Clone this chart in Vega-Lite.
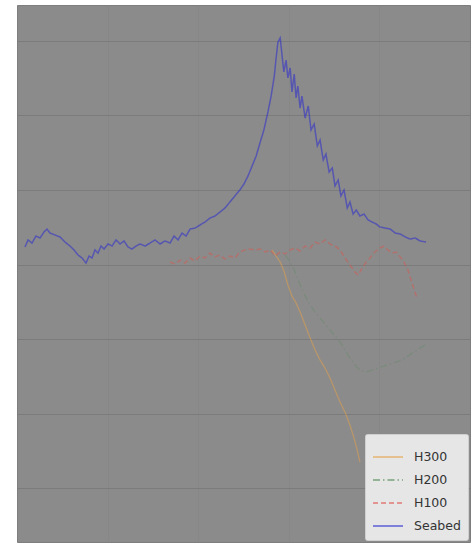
{
  "$schema": "https://vega.github.io/schema/vega-lite/v6.json",
  "width": 453,
  "height": 537,
  "autosize": {"type": "none"},
  "padding": {"left": 17, "top": 5, "right": 5, "bottom": 6},
  "background": "#ffffff",
  "config": {
    "view": {"fill": "#8b8b8b", "stroke": "#7e7e7e"},
    "font": "DejaVu Sans"
  },
  "datasets": {
    "seabed": [
      {"x":1.77,"y":-138.2},{"x":2.43,"y":-133.5},{"x":3.31,"y":-135.6},{"x":4.19,"y":-130.9},{"x":5.08,"y":-132.2},{"x":5.96,"y":-128.2},{"x":6.62,"y":-126.2},{"x":7.28,"y":-128.9},{"x":8.39,"y":-130.2},{"x":9.49,"y":-131.5},{"x":10.6,"y":-134.9},{"x":11.7,"y":-137.6},{"x":12.59,"y":-140.2},{"x":13.47,"y":-143.6},{"x":14.35,"y":-145.6},{"x":15.24,"y":-149.0},{"x":15.9,"y":-144.3},{"x":16.56,"y":-145.6},{"x":17.22,"y":-140.2},{"x":17.88,"y":-142.3},{"x":18.55,"y":-137.6},{"x":19.21,"y":-139.6},{"x":20.09,"y":-136.2},{"x":20.98,"y":-137.6},{"x":21.86,"y":-133.5},{"x":22.74,"y":-136.2},{"x":23.63,"y":-134.2},{"x":24.51,"y":-138.2},{"x":25.39,"y":-139.6},{"x":26.28,"y":-137.6},{"x":27.16,"y":-136.2},{"x":28.26,"y":-137.6},{"x":29.37,"y":-135.6},{"x":30.47,"y":-133.5},{"x":31.57,"y":-136.2},{"x":32.68,"y":-134.2},{"x":33.78,"y":-135.6},{"x":34.67,"y":-130.9},{"x":35.55,"y":-133.5},{"x":36.43,"y":-128.9},{"x":37.32,"y":-130.9},{"x":38.2,"y":-126.2},{"x":39.3,"y":-125.5},{"x":40.4,"y":-123.5},{"x":41.5,"y":-121.5},{"x":42.6,"y":-118.8},{"x":43.7,"y":-117.5},{"x":44.8,"y":-114.8},{"x":45.9,"y":-112.1},{"x":47.0,"y":-108.1},{"x":48.1,"y":-104.0},{"x":49.2,"y":-100.0},{"x":50.1,"y":-96.0},{"x":51.0,"y":-90.6},{"x":51.9,"y":-83.9},{"x":52.8,"y":-77.2},{"x":53.7,"y":-67.8},{"x":54.5,"y":-59.8},{"x":55.4,"y":-47.7},{"x":56.1,"y":-37.0},{"x":56.8,"y":-23.6},{"x":57.2,"y":-11.5},{"x":57.6,"y":-0.8},{"x":58.1,"y":1.9},{"x":58.5,"y":-9.5},{"x":58.9,"y":-20.9},{"x":59.4,"y":-12.9},{"x":59.8,"y":-24.9},{"x":60.3,"y":-18.2},{"x":60.7,"y":-34.3},{"x":61.2,"y":-22.3},{"x":61.6,"y":-38.3},{"x":62.0,"y":-30.3},{"x":62.5,"y":-45.1},{"x":62.9,"y":-37.0},{"x":63.6,"y":-51.8},{"x":64.3,"y":-43.7},{"x":64.9,"y":-59.8},{"x":65.6,"y":-55.8},{"x":66.3,"y":-70.5},{"x":66.9,"y":-66.5},{"x":67.6,"y":-79.9},{"x":68.2,"y":-75.9},{"x":68.9,"y":-88.0},{"x":69.6,"y":-85.3},{"x":70.2,"y":-97.3},{"x":70.9,"y":-93.3},{"x":71.5,"y":-104.0},{"x":72.2,"y":-100.0},{"x":72.9,"y":-112.1},{"x":73.5,"y":-108.1},{"x":74.2,"y":-116.1},{"x":74.9,"y":-113.4},{"x":75.7,"y":-117.5},{"x":76.6,"y":-116.1},{"x":77.5,"y":-120.1},{"x":78.4,"y":-121.5},{"x":79.3,"y":-122.8},{"x":80.1,"y":-124.8},{"x":81.2,"y":-125.5},{"x":82.4,"y":-126.2},{"x":83.5,"y":-128.9},{"x":84.6,"y":-129.5},{"x":85.7,"y":-131.5},{"x":86.8,"y":-132.9},{"x":87.9,"y":-132.2},{"x":89.0,"y":-134.2},{"x":90.3,"y":-134.9}
    ],
    "h100": [
      {"x":33.8,"y":-148.3},{"x":34.9,"y":-149.6},{"x":36.0,"y":-147.0},{"x":37.1,"y":-149.0},{"x":38.2,"y":-145.6},{"x":39.3,"y":-147.6},{"x":40.4,"y":-144.3},{"x":41.5,"y":-145.6},{"x":42.6,"y":-142.3},{"x":43.7,"y":-144.9},{"x":44.8,"y":-143.6},{"x":45.9,"y":-146.3},{"x":47.0,"y":-144.3},{"x":48.1,"y":-145.6},{"x":49.2,"y":-141.6},{"x":50.3,"y":-140.2},{"x":51.4,"y":-139.6},{"x":52.5,"y":-140.2},{"x":53.7,"y":-139.6},{"x":54.8,"y":-141.6},{"x":55.9,"y":-140.2},{"x":57.0,"y":-144.3},{"x":58.1,"y":-141.6},{"x":59.2,"y":-142.9},{"x":60.3,"y":-140.2},{"x":61.4,"y":-138.9},{"x":62.5,"y":-140.9},{"x":63.6,"y":-137.6},{"x":64.7,"y":-138.9},{"x":65.8,"y":-134.9},{"x":66.9,"y":-136.2},{"x":68.0,"y":-133.5},{"x":69.1,"y":-136.2},{"x":70.2,"y":-137.6},{"x":71.3,"y":-140.2},{"x":72.4,"y":-145.6},{"x":73.5,"y":-150.3},{"x":74.6,"y":-155.0},{"x":75.3,"y":-157.0},{"x":76.2,"y":-152.3},{"x":77.1,"y":-148.3},{"x":77.9,"y":-145.6},{"x":79.0,"y":-141.6},{"x":80.1,"y":-138.9},{"x":81.0,"y":-137.6},{"x":81.9,"y":-140.2},{"x":82.8,"y":-142.3},{"x":83.7,"y":-141.6},{"x":84.6,"y":-144.9},{"x":85.4,"y":-148.3},{"x":86.3,"y":-153.7},{"x":87.0,"y":-160.4},{"x":87.7,"y":-167.1},{"x":88.3,"y":-172.4}
    ],
    "h200": [
      {"x":59.2,"y":-143.6},{"x":60.3,"y":-148.3},{"x":61.4,"y":-155.0},{"x":62.5,"y":-163.7},{"x":63.6,"y":-171.1},{"x":64.7,"y":-177.1},{"x":65.8,"y":-181.8},{"x":66.9,"y":-185.8},{"x":68.0,"y":-189.9},{"x":69.1,"y":-193.9},{"x":70.2,"y":-197.9},{"x":71.3,"y":-201.9},{"x":72.4,"y":-207.3},{"x":73.5,"y":-212.7},{"x":74.6,"y":-217.3},{"x":75.7,"y":-220.7},{"x":77.1,"y":-222.0},{"x":78.4,"y":-220.7},{"x":79.7,"y":-219.4},{"x":81.0,"y":-218.0},{"x":82.4,"y":-216.7},{"x":83.7,"y":-215.3},{"x":85.0,"y":-214.0},{"x":86.3,"y":-211.3},{"x":87.7,"y":-208.6},{"x":89.0,"y":-205.9},{"x":90.1,"y":-203.9}
    ],
    "h300": [
      {"x":56.3,"y":-140.2},{"x":57.2,"y":-144.3},{"x":58.1,"y":-148.3},{"x":59.0,"y":-155.0},{"x":59.8,"y":-163.7},{"x":60.7,"y":-171.1},{"x":61.6,"y":-175.8},{"x":62.5,"y":-181.8},{"x":63.6,"y":-190.5},{"x":64.7,"y":-199.2},{"x":65.8,"y":-207.3},{"x":66.9,"y":-214.0},{"x":68.0,"y":-219.4},{"x":69.1,"y":-226.1},{"x":70.2,"y":-234.1},{"x":71.3,"y":-242.1},{"x":72.4,"y":-248.9},{"x":73.5,"y":-257.6},{"x":74.4,"y":-266.3},{"x":75.1,"y":-274.3},{"x":75.7,"y":-282.4}
    ]
  },
  "encoding": {
    "x": {"field": "x", "type": "quantitative", "scale": {"domain": [0, 100], "nice": false},
      "axis": {"title": null, "labels": false, "ticks": false, "domain": false, "grid": true, "gridColor": "#878787", "gridWidth": 1, "values": [20, 40, 60, 80]}},
    "y": {"field": "y", "type": "quantitative", "scale": {"domain": [-336, 24], "nice": false},
      "axis": {"title": null, "labels": false, "ticks": false, "domain": false, "grid": true, "gridColor": "#7b7b7b", "gridWidth": 1.2, "values": [0, -50, -100, -150, -200, -250, -300]}},
    "color": {"field": "series", "type": "nominal",
      "scale": {"domain": ["H300", "H200", "H100", "Seabed"], "range": ["#e8a24a", "#4f8a55", "#e0524a", "#2b2bd0"]},
      "legend": {"title": null, "orient": "bottom-right", "offset": 2, "fillColor": "#e6e6e6", "strokeColor": "#cfcfcf", "padding": 7, "symbolType": "stroke", "symbolSize": 900, "symbolStrokeWidth": 2, "labelFontSize": 12.5, "labelColor": "#333333", "labelOffset": 10, "rowPadding": -8, "cornerRadius": 2}},
    "strokeDash": {"field": "series", "type": "nominal",
      "scale": {"domain": ["H300", "H200", "H100", "Seabed"], "range": [[1, 0], [7, 3, 1.5, 3], [5, 3], [1, 0]]}}
  },
  "layer": [
    {"data": {"name": "seabed"}, "transform": [{"calculate": "'Seabed'", "as": "series"}],
     "mark": {"type": "line", "strokeWidth": 1.5, "opacity": 0.55}},
    {"data": {"name": "h100"}, "transform": [{"calculate": "'H100'", "as": "series"}],
     "mark": {"type": "line", "strokeWidth": 1.5, "opacity": 0.45}},
    {"data": {"name": "h200"}, "transform": [{"calculate": "'H200'", "as": "series"}],
     "mark": {"type": "line", "strokeWidth": 1.2, "opacity": 0.3}},
    {"data": {"name": "h300"}, "transform": [{"calculate": "'H300'", "as": "series"}],
     "mark": {"type": "line", "strokeWidth": 1.3, "opacity": 0.5}}
  ]
}
